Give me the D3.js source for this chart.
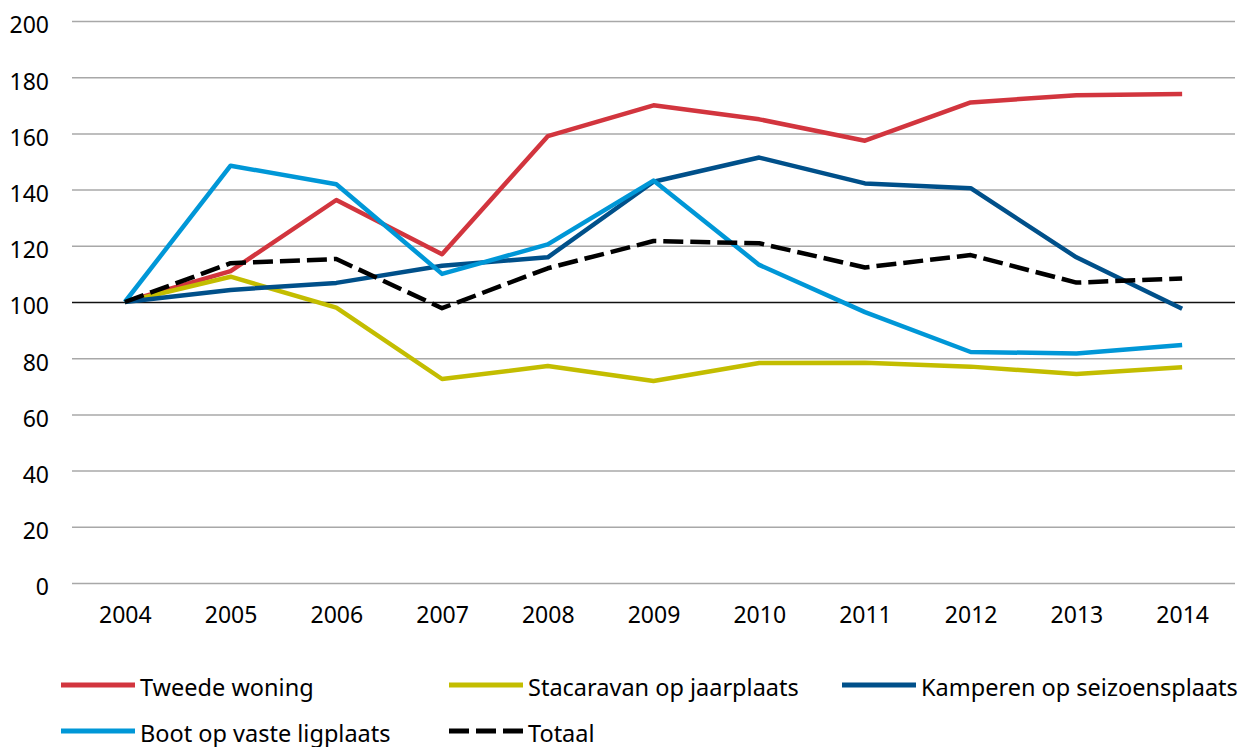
<!DOCTYPE html>
<html>
<head>
<meta charset="utf-8">
<script src="https://cdn.jsdelivr.net/npm/d3@7"></script>
<style>
body{margin:0;background:#fff;}
text{font-family:"Noto Sans",sans-serif;fill:#000;}
</style>
</head>
<body>
<div id="chart"></div>
<script>
var years = ["2004","2005","2006","2007","2008","2009","2010","2011","2012","2013","2014"];
var yTicks = [0,20,40,60,80,100,120,140,160,180,200];
var tweedeWoning = [100,111,136.3,117,159,170,165,157.4,171,173.6,174];
var stacaravan = [100,109,98,72.6,77.2,71.9,78.3,78.4,77,74.4,76.8];
var kamperen = [100,104.3,106.8,112.9,115.9,142.8,151.4,142.2,140.5,115.9,97.6];
var boot = [100,148.5,141.9,110,120.5,143.2,113.2,96.4,82.2,81.7,84.7];
var totaal = [100,113.8,115.3,97.8,112,121.7,120.9,112.3,116.7,106.9,108.4];
var seriesNames = ["Tweede woning","Stacaravan op jaarplaats","Kamperen op seizoensplaats","Boot op vaste ligplaats","Totaal"];

var W = 1242, H = 747;
var pLeft = 72, pRight = 1235, pTop = 21, pBottom = 583;

var series = [
    {name:seriesNames[0], values:tweedeWoning, color:"#d2353e", dash:null},
    {name:seriesNames[1], values:stacaravan, color:"#c3bd00", dash:null},
    {name:seriesNames[2], values:kamperen, color:"#00508a", dash:null},
    {name:seriesNames[3], values:boot, color:"#0097d7", dash:null},
    {name:seriesNames[4], values:totaal, color:"#000", dash:"20 7"}
];

var svg = d3.select("#chart").append("svg")
    .attr("width", W)
    .attr("height", H);

var x = d3.scalePoint().domain(years).range([pLeft, pRight]).padding(0.5);
var y = d3.scaleLinear().domain([0,200]).range([pBottom, pTop]);

// rasterlijnen, 100 is donker
svg.append("g").selectAll("line")
    .data(yTicks)
    .enter().append("line")
    .attr("x1", pLeft)
    .attr("x2", pRight)
    .attr("y1", function(d){return y(d)+0.5;})
    .attr("y2", function(d){return y(d)+0.5;})
    .attr("stroke", function(d){return d==100 ? "#111" : "#a8a8a8";})
    .attr("stroke-width", function(d){return d==100 ? 1.3 : 1.5;});

// y-as labels
var yAxis = d3.axisLeft(y).tickValues(yTicks).tickSize(0).tickPadding(0);
var ga = svg.append("g")
    .attr("transform", "translate(49,0)")
    .call(yAxis);
ga.select(".domain").remove();
ga.selectAll("text")
    .attr("dy", "0.52em")
    .attr("font-size", 23)
    .style("font-family", "'Noto Sans',sans-serif")
    .attr("fill", "#000");

// x-as labels
var xAxis = d3.axisBottom(x).tickSize(0).tickPadding(0);
var gx = svg.append("g")
    .attr("transform", "translate(0,623)")
    .call(xAxis);
gx.select(".domain").remove();
gx.selectAll("text")
    .attr("dy", 0)
    .attr("y", 0)
    .attr("font-size", 23)
    .style("font-family", "'Noto Sans',sans-serif")
    .attr("fill", "#000");

var line = d3.line()
    .x(function(d,i){return x(years[i]);})
    .y(function(d){return y(d);});

// lijnen, totaal bovenop
series.forEach(function(s){
    svg.append("path")
        .attr("d", line(s.values))
        .attr("fill", "none")
        .attr("stroke", s.color)
        .attr("stroke-width", 4.5)
        .attr("stroke-linejoin", "round")
        .attr("stroke-dasharray", s.dash);
});

// legenda
var legPos = [[61,685],[449,685],[842,685],[61,731],[449,731]];
series.forEach(function(s,i){
    var p = legPos[i];
    svg.append("line")
        .attr("x1", p[0])
        .attr("x2", p[0]+74)
        .attr("y1", p[1])
        .attr("y2", p[1])
        .attr("stroke", s.color)
        .attr("stroke-width", 5)
        .attr("stroke-dasharray", s.dash);
    svg.append("text")
        .attr("x", p[0]+79)
        .attr("y", p[1]+11)
        .attr("font-size", 23.5)
        .text(s.name);
});
</script>
</body>
</html>
